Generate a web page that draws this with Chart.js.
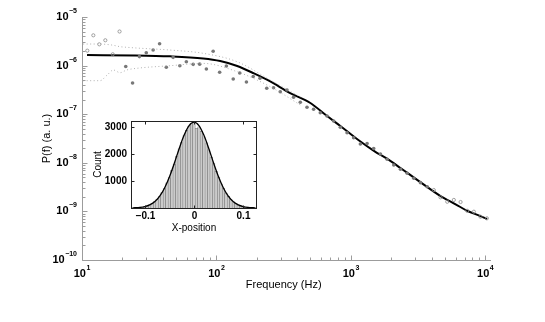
<!DOCTYPE html>
<html>
<head>
<meta charset="utf-8">
<script src="https://cdn.jsdelivr.net/npm/chart.js@4.4.0/dist/chart.umd.min.js"></script>
<style>
  html, body { margin: 0; padding: 0; background: #fff; }
  #wrap { position: relative; width: 545px; height: 322px; }
  #main { position: absolute; left: 0; top: 0; }
  #inset { position: absolute; left: 86px; top: 110px; }
</style>
</head>
<body>
<div id="wrap">
  <canvas id="main" width="545" height="322"></canvas>
  <canvas id="inset" width="180" height="128"></canvas>
</div>
<script>
// ==================== DADOS: ESPECTRO DE POTENCIA ====================
// ajuste (linha preta)
const fitFreq = [10.9, 25, 45.2, 79.6, 106.6, 142.6, 190, 251, 350, 499, 650, 834, 1135, 1500, 1866, 2333, 3200, 4634, 6000, 7360, 9000, 10300];
const fitPow  = [1.65e-6, 1.62e-6, 1.55e-6, 1.40e-6, 1.24e-6, 9.8e-7, 6.9e-7, 4.71e-7, 2.75e-7, 1.70e-7, 9.6e-8, 5.71e-8, 2.94e-8, 1.72e-8, 1.20e-8, 7.82e-9, 4.2e-9, 2.07e-9, 1.40e-9, 1.02e-9, 8.2e-10, 7.0e-10];

// faixa pontilhada
const bandFreq  = [10.2, 13.6, 15.4, 17.1, 19.2, 21.5, 25.5, 45.2, 79.6, 142.6, 251, 420];
const bandUpper = [2.78e-6, 2.78e-6, 2.72e-6, 2.62e-6, 2.45e-6, 2.38e-6, 2.30e-6, 2.09e-6, 1.79e-6, 1.20e-6, 5.06e-7, 2.26e-7];
const bandLower = [4.89e-7, 4.89e-7, 6.41e-7, 8.12e-7, 7.15e-7, 8.12e-7, 8.79e-7, 9.95e-7, 1.11e-6, 7.48e-7, 3.68e-7, 1.55e-7];

// pontos cheios (usados no ajuste)
const dotFreq = [21.15, 23.77, 26.72, 30.06, 33.8, 37.76, 42.36, 47.6, 53.4, 59.7, 67.1, 75.0, 84.1, 94.5, 105.6, 118.5, 133.2, 148.9, 167.0, 187.6, 210.5, 236.5, 265.7, 298.1, 334.4, 374.4, 420.1, 471.1, 527.6, 591.7, 663.7, 743.3, 833.7, 935.4, 1047, 1175, 1318, 1476, 1656, 1858, 2081, 2334, 2618, 2932, 3289, 3690];
const dotPow  = [9.58e-7, 4.39e-7, 1.53e-6, 1.84e-6, 2.10e-6, 2.81e-6, 9.27e-7, 1.48e-6, 9.95e-7, 1.20e-6, 1.06e-6, 1.07e-6, 8.51e-7, 1.98e-6, 7.31e-7, 9.82e-7, 5.30e-7, 7.04e-7, 4.60e-7, 5.97e-7, 5.48e-7, 3.41e-7, 3.51e-7, 2.90e-7, 3.15e-7, 2.23e-7, 1.76e-7, 1.39e-7, 1.26e-7, 1.07e-7, 9.18e-8, 7.24e-8, 5.38e-8, 4.16e-8, 3.28e-8, 2.44e-8, 2.49e-8, 1.97e-8, 1.52e-8, 1.18e-8, 9.01e-9, 7.35e-9, 6.08e-9, 4.80e-9, 3.90e-9, 3.22e-9];

// circulos abertos (fora do ajuste)
const openFreq = [10.95, 12.14, 13.45, 14.91, 16.93, 19.02, 4131, 4635, 5200, 5823, 6534, 7318, 8204, 9189, 10250];
const openPow  = [2.03e-6, 4.20e-6, 2.74e-6, 3.32e-6, 1.71e-6, 5.03e-6, 2.75e-9, 1.95e-9, 1.58e-9, 1.72e-9, 1.56e-9, 1.03e-9, 9.86e-10, 7.78e-10, 7.2e-10];

// ==================== DADOS: HISTOGRAMA (INSET) ====================
const binCenters = [-0.100, -0.095, -0.090, -0.085, -0.080, -0.075, -0.070, -0.065, -0.060, -0.055, -0.050, -0.045, -0.040, -0.035, -0.030, -0.025, -0.020, -0.015, -0.010, -0.005, 0.000, 0.005, 0.010, 0.015, 0.020, 0.025, 0.030, 0.035, 0.040, 0.045, 0.050, 0.055, 0.060, 0.065, 0.070, 0.075, 0.080, 0.085, 0.090, 0.095, 0.100];
const binCounts  = [50, 75, 120, 160, 235, 320, 420, 570, 720, 930, 1130, 1400, 1620, 1930, 2200, 2430, 2690, 2880, 3040, 3130, 3160, 2960, 3010, 2850, 2640, 2420, 2160, 1890, 1650, 1360, 1150, 900, 740, 550, 430, 310, 230, 165, 110, 80, 50];
const gaussX = [-0.125, -0.12, -0.11, -0.10, -0.09, -0.08, -0.07, -0.06, -0.05, -0.04, -0.03, -0.02, -0.01, 0.0, 0.01, 0.02, 0.03, 0.04, 0.05, 0.06, 0.07, 0.08, 0.09, 0.10, 0.11, 0.12, 0.125];
const gaussY = [4, 9, 23, 54, 117, 234, 431, 734, 1150, 1659, 2211, 2708, 3062, 3190, 3062, 2708, 2211, 1659, 1150, 734, 431, 234, 117, 54, 23, 9, 4];

// rotulos dos eixos
const xDecades = [1, 2, 3, 4];
const yDecades = [-5, -6, -7, -8, -9, -10];
const insetXTicks = [-0.1, 0, 0.1];
const insetYTicks = [1000, 2000, 3000];

const FONT = '"Liberation Sans", Arial, Helvetica, sans-serif';
const pts = (xs, ys) => xs.map((v, i) => ({ x: v, y: ys[i] }));

function line(ctx, x1, y1, x2, y2) {
  ctx.beginPath(); ctx.moveTo(x1, y1); ctx.lineTo(x2, y2); ctx.stroke();
}

// texto "10^e" com expoente
function drawPow(ctx, e, x, y, align) {
  const base = '10', ex = String(e).replace('-', '\u2212');
  ctx.font = 'bold 11px ' + FONT;
  const w1 = ctx.measureText(base).width;
  ctx.font = 'bold 7px ' + FONT;
  const w2 = ctx.measureText(ex).width;
  const total = w1 + w2 + 0.5;
  let x0 = align === 'right' ? x - total : x - total / 2;
  ctx.fillStyle = '#000';
  ctx.textBaseline = 'middle';
  ctx.textAlign = 'left';
  ctx.font = 'bold 11px ' + FONT;
  ctx.fillText(base, x0, y);
  ctx.font = 'bold 7px ' + FONT;
  ctx.fillText(ex, x0 + w1 + 0.5, y - 6);
}

const mainAxes = {
  id: 'mainAxes',
  afterDraw(chart) {
    const { ctx, chartArea: a, scales: { x, y } } = chart;
    ctx.save();
    ctx.strokeStyle = '#9c9c9c';
    ctx.lineWidth = 1;
    const L = a.left + 0.5, B = a.bottom + 0.5;
    line(ctx, L, a.top, L, B);
    line(ctx, L, B, a.right, B);
    // ticks y
    for (let e = -10; e <= -5; e++) {
      for (let m = 1; m < 10; m++) {
        const v = m * Math.pow(10, e);
        if (v > 1.0001e-5) break;
        const py = Math.round(y.getPixelForValue(v)) + 0.5;
        line(ctx, L, py, L + (m === 1 ? 5 : 3), py);
      }
    }
    // ticks x
    for (let e = 1; e <= 4; e++) {
      for (let m = 1; m < 10; m++) {
        const v = m * Math.pow(10, e);
        if (v > x.max) break;
        const px = Math.round(x.getPixelForValue(v)) + 0.5;
        line(ctx, px, B, px, B - (m === 1 ? 5 : 3));
      }
    }
    xDecades.forEach(e => drawPow(ctx, e, x.getPixelForValue(Math.pow(10, e)), a.bottom + 14, 'center'));
    yDecades.forEach(e => drawPow(ctx, e, a.left - 5, y.getPixelForValue(Math.pow(10, e)), 'right'));
    // titulos
    ctx.fillStyle = '#000';
    ctx.font = '11px ' + FONT;
    ctx.textAlign = 'center';
    ctx.textBaseline = 'middle';
    ctx.fillText('Frequency (Hz)', (a.left + x.getPixelForValue(1e4)) / 2, 285);
    ctx.translate(47, (a.top + a.bottom) / 2);
    ctx.rotate(-Math.PI / 2);
    ctx.fillText('P(f) (a. u.)', 0, 0);
    ctx.restore();
  }
};

// ==================== GRAFICO PRINCIPAL ====================
const chtMain = new Chart(document.getElementById('main'), {
  type: 'scatter',
  data: {
    datasets: [
      {
        label: 'band upper',
        data: pts(bandFreq, bandUpper),
        showLine: true, pointRadius: 0,
        borderColor: '#b0b0b0', borderWidth: 1, borderDash: [1, 2.5],
        cubicInterpolationMode: 'monotone',
      },
      {
        label: 'band lower',
        data: pts(bandFreq, bandLower),
        showLine: true, pointRadius: 0,
        borderColor: '#b0b0b0', borderWidth: 1, borderDash: [1, 2.5],
        cubicInterpolationMode: 'monotone',
      },
      {
        label: 'dados',
        data: pts(dotFreq, dotPow),
        pointRadius: 1.8, pointBorderWidth: 0,
        backgroundColor: '#787878', borderColor: '#787878',
      },
      {
        label: 'excluidos',
        data: pts(openFreq, openPow),
        pointRadius: 1.6, pointBorderWidth: 0.8,
        backgroundColor: 'rgba(0,0,0,0)', borderColor: '#8a8a8a',
      },
      {
        label: 'ajuste',
        data: pts(fitFreq, fitPow),
        showLine: true, pointRadius: 0,
        borderColor: '#000', borderWidth: 2,
        cubicInterpolationMode: 'monotone',
      },
    ]
  },
  options: {
    responsive: false,
    animation: false,
    layout: { padding: { top: 17, right: 54, left: 0, bottom: 0 } },
    scales: {
      x: {
        type: 'logarithmic', min: 10, max: 11000,
        grid: { display: false }, border: { display: false },
        ticks: { display: false },
        afterFit: s => { s.height = 62; },
      },
      y: {
        type: 'logarithmic', min: 1e-10, max: 1e-5,
        grid: { display: false }, border: { display: false },
        ticks: { display: false },
        afterFit: s => { s.width = 82; },
      },
    },
    plugins: { legend: { display: false }, tooltip: { enabled: false } },
  },
  plugins: [mainAxes],
});

// ==================== INSET: HISTOGRAMA ====================
const insetAxes = {
  id: 'insetAxes',
  afterDraw(chart) {
    const { ctx, chartArea: a, scales: { x, y } } = chart;
    ctx.save();
    ctx.strokeStyle = '#222';
    ctx.lineWidth = 1;
    const L = a.left + 0.5, R = a.right - 0.5, T = a.top + 0.5, B = a.bottom + 0.5;
    ctx.strokeRect(L, T, R - L, B - T);
    ctx.fillStyle = '#000';
    ctx.font = 'bold 10px ' + FONT;
    ctx.textBaseline = 'middle';
    insetYTicks.forEach(v => {
      const py = Math.round(y.getPixelForValue(v)) + 0.5;
      line(ctx, L, py, L + 3, py);
      line(ctx, R, py, R - 3, py);
      ctx.textAlign = 'right';
      ctx.fillText(String(v), a.left - 4, py);
    });
    insetXTicks.forEach(v => {
      const px = Math.round(x.getPixelForValue(v)) + 0.5;
      line(ctx, px, B, px, B - 3);
      line(ctx, px, T, px, T + 3);
      ctx.textAlign = 'center';
      ctx.fillText(v === 0 ? '0' : String(v).replace('-', '\u2212'), px, a.bottom + 8);
    });
    ctx.font = '10px ' + FONT;
    ctx.fillText('X-position', (a.left + a.right) / 2, a.bottom + 20);
    ctx.translate(12, (a.top + a.bottom) / 2);
    ctx.rotate(-Math.PI / 2);
    ctx.fillText('Count', 0, 0);
    ctx.restore();
  }
};

const chtInset = new Chart(document.getElementById('inset'), {
  data: {
    datasets: [
      {
        type: 'line',
        data: pts(gaussX, gaussY),
        pointRadius: 0, borderColor: '#000', borderWidth: 1.3,
        cubicInterpolationMode: 'monotone',
      },
      {
        type: 'bar',
        data: pts(binCenters, binCounts),
        backgroundColor: '#cbcbcb', borderColor: '#6e6e6e', borderWidth: 0.5,
        barPercentage: 1, categoryPercentage: 1,
      },
    ]
  },
  options: {
    responsive: false,
    animation: false,
    layout: { padding: { top: 11, right: 9, left: 0, bottom: 0 } },
    scales: {
      x: {
        type: 'linear', min: -0.128, max: 0.128, offset: false,
        grid: { display: false }, border: { display: false },
        ticks: { display: false },
        afterFit: s => { s.height = 30; },
      },
      y: {
        min: 0, max: 3230,
        grid: { display: false }, border: { display: false },
        ticks: { display: false },
        afterFit: s => { s.width = 45; },
      },
    },
    plugins: { legend: { display: false }, tooltip: { enabled: false } },
  },
  plugins: [insetAxes],
});
</script>
</body>
</html>
